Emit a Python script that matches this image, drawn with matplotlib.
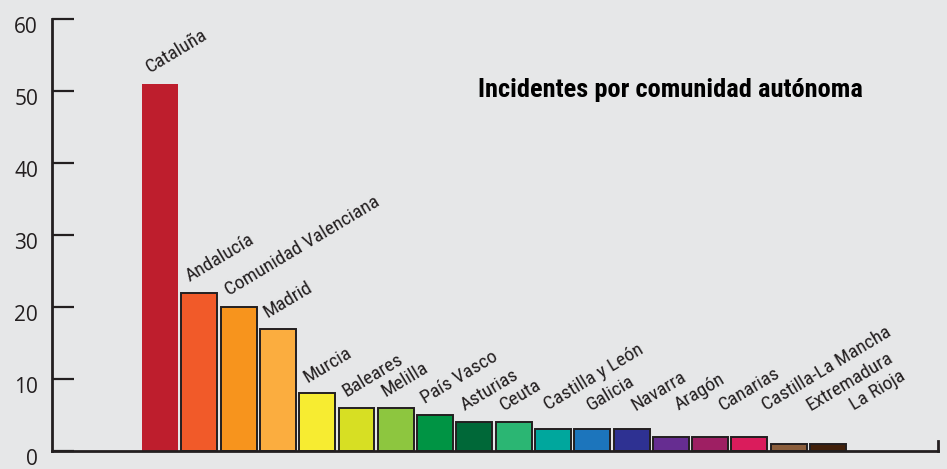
import matplotlib.pyplot as plt
import matplotlib.transforms as mtransforms
import numpy as np

# Data
comunidades = ['Cataluña', 'Andalucía', 'Comunidad Valenciana', 'Madrid', 'Murcia',
               'Baleares', 'Melilla', 'País Vasco', 'Asturias', 'Ceuta',
               'Castilla y León', 'Galicia', 'Navarra', 'Aragón', 'Canarias',
               'Castilla-La Mancha', 'Extremadura', 'La Rioja']
incidentes = [51, 22, 20, 17, 8, 6, 6, 5, 4, 4, 3, 3, 3, 2, 2, 2, 1, 1]
colores = ['#be1e2d', '#f15a29', '#f7941d', '#fbad3f', '#f7ec31', '#d7df23',
           '#8dc63f', '#009444', '#006838', '#2bb673', '#00a79d', '#1c75bc',
           '#2e3192', '#662d91', '#9e1f63', '#da1c5c', '#8b5e3c', '#42210b']
yticks = [0, 10, 20, 30, 40, 50, 60]
titulo = 'Incidentes por comunidad autónoma'

BG = '#e6e7e8'
INK = '#231f20'
label_font = ['Roboto Condensed', 'DejaVu Sans']

fig = plt.figure(figsize=(9.47, 4.69), dpi=100, facecolor=BG)
ax = fig.add_axes([52 / 947, 1 - 451 / 469, (938 - 52) / 947, (451 - 19) / 469])
ax.set_facecolor(BG)

x = np.arange(len(comunidades))
bars = ax.bar(x, incidentes, width=0.915, color=colores, edgecolor=INK, linewidth=1.4)
bars[0].set_linewidth(0)

ax.set_xlim(-2.75, 19.8)
ax.set_ylim(0, 60)

# spines
ax.spines['top'].set_visible(False)
ax.spines['left'].set_linewidth(2)
ax.spines['bottom'].set_linewidth(2)
ax.spines['right'].set_linewidth(2)
ax.spines['right'].set_bounds(0, 1.4)
for s in ax.spines.values():
    s.set_color(INK)

ax.set_xticks([])
ax.set_yticks(yticks)
ax.set_yticklabels([str(t) for t in yticks])
ax.tick_params(axis='y', direction='in', length=15.5, width=1.6, color=INK,
               labelsize=15, pad=10, labelcolor=INK)
ax.tick_params(axis='y', which='both', right=False)
shift = mtransforms.ScaledTranslation(0, -6 / 100, fig.dpi_scale_trans)
for lbl in ax.get_yticklabels():
    lbl.set_transform(lbl.get_transform() + shift)
    lbl.set_fontfamily(['Open Sans', 'DejaVu Sans'])

# rotated labels above each bar
for i, (name, val) in enumerate(zip(comunidades, incidentes)):
    y = max(val + 1.5, 5.6)
    dx = (-10 + 4.5 * max(0, i - 9)) / 39.3
    ax.text(i + dx, y, name, rotation=31, rotation_mode='anchor',
            ha='left', va='baseline', fontsize=14, color=INK,
            family=label_font)

fig.text(478 / 947, 1 - 97 / 469, titulo, fontsize=19, fontweight='bold',
         color='black', family=label_font, ha='left', va='baseline')

fig.savefig('out.png', dpi=100, facecolor=BG)
